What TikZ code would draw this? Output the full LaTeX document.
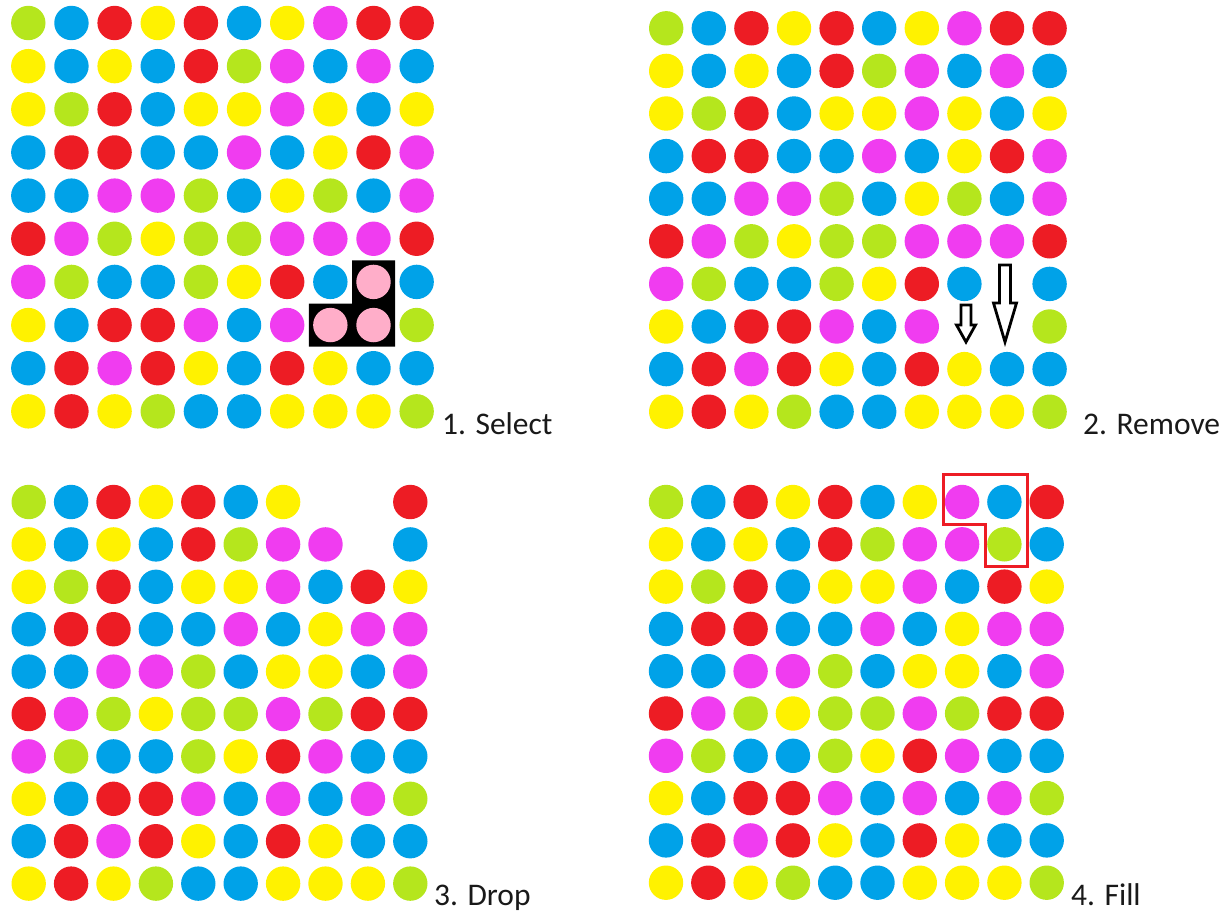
\documentclass[tikz,border=0pt]{standalone}
\usepackage{fontspec}
\setmainfont{Carlito}
\usepackage{tikz}

\definecolor{dotG}{HTML}{B5E61D}
\definecolor{dotB}{HTML}{00A2E8}
\definecolor{dotR}{HTML}{ED1C24}
\definecolor{dotY}{HTML}{FFF200}
\definecolor{dotM}{HTML}{F03CF0}
\definecolor{dotP}{HTML}{FFAEC9}

% #1,#2 first centre, #3 pitch, #4 rows (W = empty)
\newcommand{\dotgrid}[4]{%
  \foreach \row [count=\j from 0] in {#4} {
    \foreach \dc [count=\i from 0] in \row {
      \if\dc W\else
        \fill[dot\dc] ({#1+\i*#3},{#2+\j*#3}) circle (17.2pt);
      \fi
    }
  }
}

\begin{document}
\begin{tikzpicture}[x=1pt,y=-1pt,
  lbl/.style={anchor=base west,inner sep=0pt,text=black!90,font=\fontsize{31.5}{36}\selectfont},
  droparrow/.style={draw=black,fill=white,line width=2.8pt,line join=miter}]
\useasboundingbox (0,0) rectangle (1231,911);

% 1. Select
\fill[black] (308.8,346.6) -- (308.8,303.5) -- (352,303.5) -- (352,260.3) -- (395.1,260.3) -- (395.1,346.6) -- cycle;
\dotgrid{28.3}{23}{43.15}{{G,B,R,Y,R,B,Y,M,R,R},{Y,B,Y,B,R,G,M,B,M,B},{Y,G,R,B,Y,Y,M,Y,B,Y},{B,R,R,B,B,M,B,Y,R,M},{B,B,M,M,G,B,Y,G,B,M},{R,M,G,Y,G,G,M,M,M,R},{M,G,B,B,G,Y,R,B,P,B},{Y,B,R,R,M,B,M,P,P,G},{B,R,M,R,Y,B,R,Y,B,B},{Y,R,Y,G,B,B,Y,Y,Y,G}}
\node[lbl] (select) at (442,434) {1. Select};

% 2. Remove
\dotgrid{666.2}{28.3}{42.6}{{G,B,R,Y,R,B,Y,M,R,R},{Y,B,Y,B,R,G,M,B,M,B},{Y,G,R,B,Y,Y,M,Y,B,Y},{B,R,R,B,B,M,B,Y,R,M},{B,B,M,M,G,B,Y,G,B,M},{R,M,G,Y,G,G,M,M,M,R},{M,G,B,B,G,Y,R,B,W,B},{Y,B,R,R,M,B,M,W,W,G},{B,R,M,R,Y,B,R,Y,B,B},{Y,R,Y,G,B,B,Y,Y,Y,G}}
\draw[droparrow] (961,305) -- (971,305) -- (971,325) -- (975.5,325) -- (966,342) -- (956.5,325) -- (961,325) -- cycle;
\draw[droparrow] (999.5,265) -- (1010.5,265) -- (1010.5,303) -- (1016.5,303) -- (1005,342) -- (993.5,303) -- (999.5,303) -- cycle;
\node[lbl] (remove) at (1083,434) {2. Remove};

% 3. Drop
\dotgrid{28.7}{502}{42.4}{{G,B,R,Y,R,B,Y,W,W,R},{Y,B,Y,B,R,G,M,M,W,B},{Y,G,R,B,Y,Y,M,B,R,Y},{B,R,R,B,B,M,B,Y,M,M},{B,B,M,M,G,B,Y,Y,B,M},{R,M,G,Y,G,G,M,G,R,R},{M,G,B,B,G,Y,R,M,B,B},{Y,B,R,R,M,B,M,B,M,G},{B,R,M,R,Y,B,R,Y,B,B},{Y,R,Y,G,B,B,Y,Y,Y,G}}
\node[lbl] (drop) at (434,905) {3. Drop};

% 4. Fill
\dotgrid{666}{502}{42.3}{{G,B,R,Y,R,B,Y,M,B,R},{Y,B,Y,B,R,G,M,M,G,B},{Y,G,R,B,Y,Y,M,B,R,Y},{B,R,R,B,B,M,B,Y,M,M},{B,B,M,M,G,B,Y,Y,B,M},{R,M,G,Y,G,G,M,G,R,R},{M,G,B,B,G,Y,R,M,B,B},{Y,B,R,R,M,B,M,B,M,G},{B,R,M,R,Y,B,R,Y,B,B},{Y,R,Y,G,B,B,Y,Y,Y,G}}
\draw[dotR,line width=3pt] (943,474) -- (1027,474) -- (1027,566) -- (985,566) -- (985,524) -- (943,524) -- cycle;
\node[lbl] (fill) at (1071,905) {4. Fill};
\end{tikzpicture}
\end{document}
